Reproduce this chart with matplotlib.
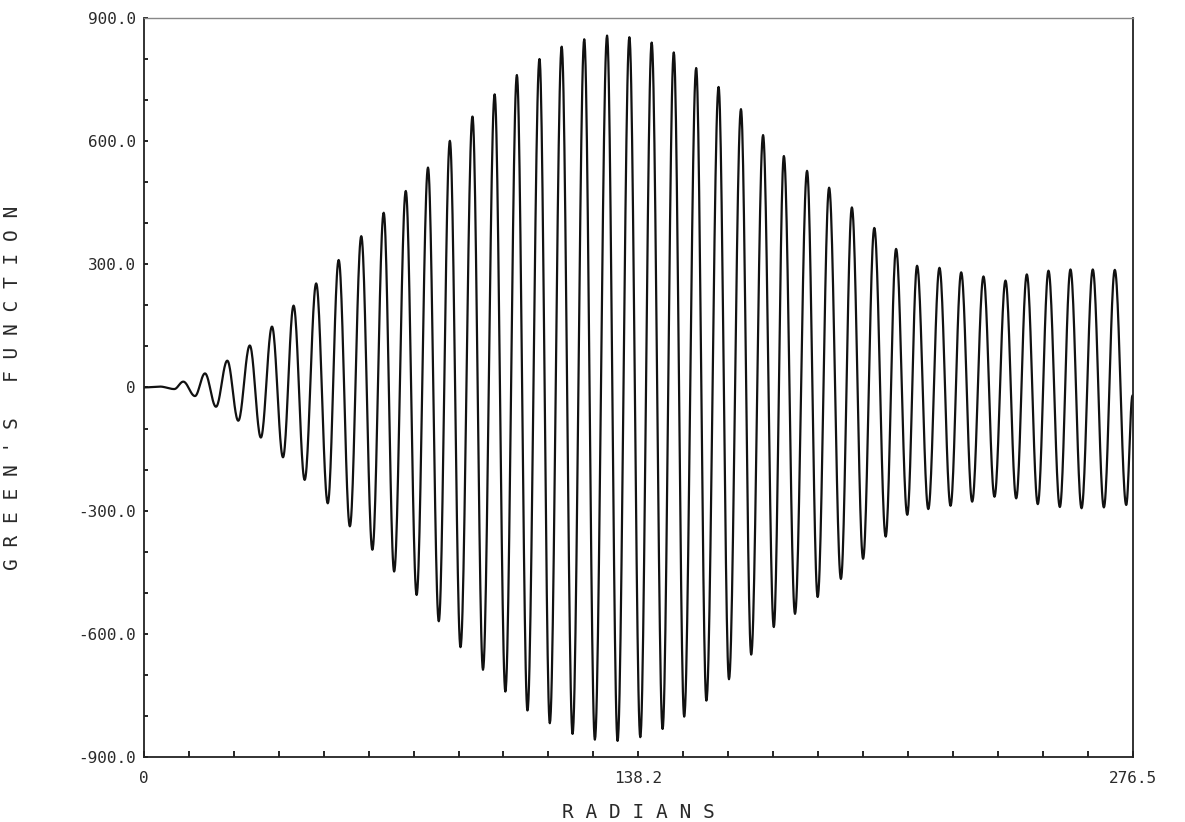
import numpy as np
import matplotlib
matplotlib.use("Agg")
import matplotlib.pyplot as plt

# extrema of the trace (x in radians, y in function units)
start_rad, start_val = [0.0, 4.47, 8.47], [0, 2, -4]

peak_rad = [10.99, 17.06, 23.30, 29.59, 35.80, 41.84, 48.16, 54.45, 60.77, 67.04,
            73.22, 79.43, 85.55, 91.87, 98.07, 104.29, 110.61, 116.82, 123.13, 129.51,
            135.75, 141.99, 148.17, 154.43, 160.70, 166.96, 173.14, 178.96, 185.44, 191.61,
            197.98, 204.25, 210.34, 216.21, 222.47, 228.55, 234.78, 240.94, 246.90, 252.96,
            259.11, 265.35, 271.51]
peak_val = [14, 34, 65, 102, 148, 199, 253, 310, 368, 425,
            478, 535, 600, 659, 713, 760, 799, 829, 847, 856,
            852, 839, 815, 777, 731, 677, 614, 563, 527, 486,
            438, 388, 337, 296, 291, 280, 270, 260, 275, 284,
            287, 287, 286]

trough_rad = [14.26, 20.14, 26.37, 32.69, 38.88, 44.94, 51.40, 57.58, 63.88, 69.96,
              76.25, 82.45, 88.52, 94.81, 101.07, 107.25, 113.50, 119.86, 126.10, 132.45,
              138.80, 145.04, 151.08, 157.29, 163.61, 169.82, 176.14, 182.07, 188.41, 194.91,
              201.11, 207.43, 213.47, 219.35, 225.57, 231.62, 237.86, 243.93, 249.97, 256.14,
              262.21, 268.45, 274.70]
trough_val = [-21, -47, -81, -122, -170, -225, -282, -338, -395, -448,
              -505, -569, -632, -687, -740, -786, -817, -843, -857, -860,
              -851, -831, -801, -762, -710, -650, -583, -551, -510, -466,
              -417, -363, -310, -296, -288, -278, -266, -270, -284, -291,
              -294, -292, -286]

end_rad, end_val = [276.46], [-20]

x_max = 276.46
x_labels = {0: "0", 11: "138.2", 22: "276.5"}   # keyed by tick index (ticks every 4*pi)
y_labels = {-900: "-900.0", -600: "-600.0", -300: "-300.0", 0: "0",
            300: "300.0", 600: "600.0", 900: "900.0"}


def build_trace():
    xs = list(start_rad)
    ys = list(start_val)
    for pr, pv, tr, tv in zip(peak_rad, peak_val, trough_rad, trough_val):
        xs += [pr, tr]
        ys += [pv, tv]
    xs += end_rad
    ys += end_val
    # smooth half-cosine between successive extrema
    tx, ty = [], []
    t = np.linspace(0, 1, 25)
    w = (1 - np.cos(np.pi * t)) / 2
    for i in range(len(xs) - 1):
        tx.append(xs[i] + (xs[i + 1] - xs[i]) * t)
        ty.append(ys[i] + (ys[i + 1] - ys[i]) * w)
    return np.concatenate(tx), np.concatenate(ty)


def spaced(s):
    return " ".join(s)


fig = plt.figure(figsize=(11.85, 8.22), dpi=100)
ax = fig.add_axes([0.1215, 0.0787, 0.8342, 0.9000])

x, y = build_trace()
ax.plot(x, y, color="#111111", lw=1.6)

ax.set_xlim(0, x_max)
ax.set_ylim(-900, 900)

mono = "DejaVu Sans Mono"
ink = "#2a2a2a"
ax.set_xticks(np.arange(23) * 4 * np.pi)
ax.set_xticklabels([x_labels.get(k, "") for k in range(23)],
                   family=mono, fontsize=11.5, color=ink)
ax.set_yticks(np.arange(-900, 901, 100))
ax.set_yticklabels([y_labels.get(v, "") for v in range(-900, 901, 100)],
                   family=mono, fontsize=11.5, color=ink)
ax.tick_params(axis="x", direction="in", length=4, width=1.2, pad=10)
ax.tick_params(axis="y", direction="in", length=3, width=1.2, pad=6)

for side in ax.spines.values():
    side.set_linewidth(1.3)
    side.set_color("#222222")
ax.spines["top"].set_color("#888888")
ax.spines["top"].set_linewidth(1.0)

ax.set_xlabel(spaced("RADIANS"), family=mono, fontsize=14, color=ink, labelpad=12)
ax.set_ylabel(spaced("GREEN'S FUNCTION"), family=mono, fontsize=14, color=ink,
              labelpad=40)

fig.savefig("out.png", dpi=100)
